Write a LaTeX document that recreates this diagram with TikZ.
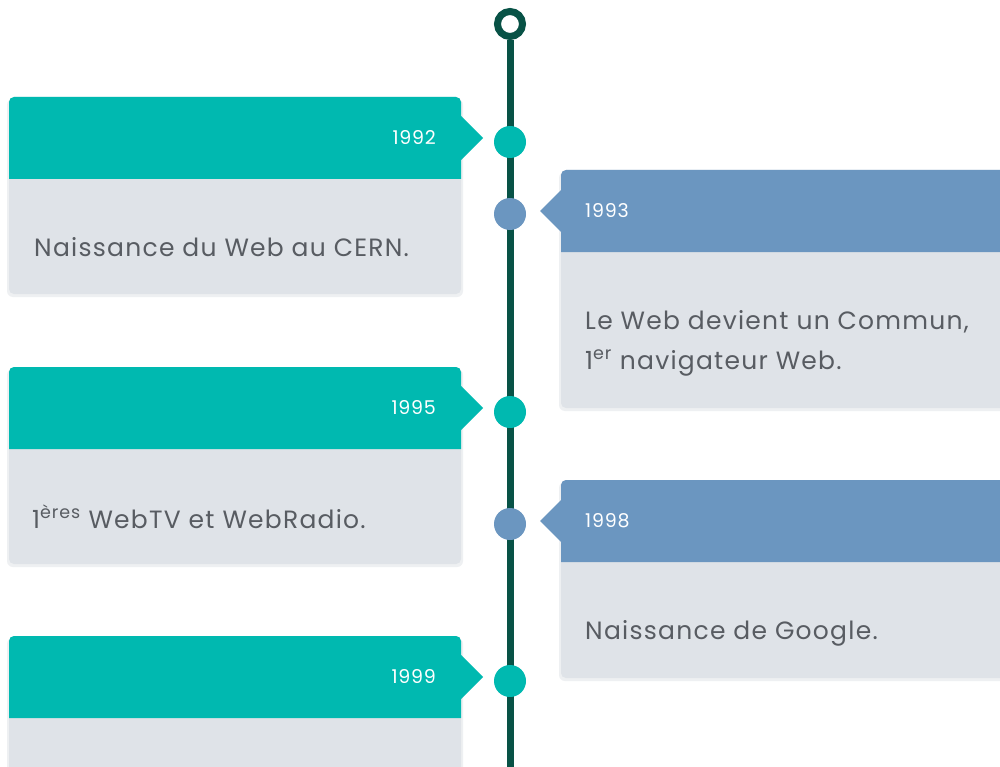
\documentclass[tikz,border=0pt]{standalone}
\usepackage{fontspec}
\setmainfont{Poppins}
\usetikzlibrary{positioning}

\definecolor{cteal}{RGB}{0,185,176}
\definecolor{cblue}{RGB}{107,150,192}
\definecolor{cbody}{RGB}{223,227,232}
\definecolor{cshade}{RGB}{238,240,242}
\definecolor{cline}{RGB}{8,82,70}
\definecolor{ctext}{RGB}{88,92,98}

\begin{document}
\begin{tikzpicture}[x=1pt,y=-1pt,every node/.style={inner sep=0pt},
	dot/.style={circle,minimum size=32pt},
	year/.style={text=white,font=\fontsize{19}{21}\selectfont\addfontfeature{LetterSpace=4}},
	txt/.style={text=ctext,anchor=base west,font=\fontsize{25}{29}\selectfont\addfontfeature{LetterSpace=5}}]

\useasboundingbox[fill=white](0,0) rectangle (1000,767);
\clip(0,0) rectangle (1000,767);

% timeline
\node[circle,draw=cline,line width=7pt,fill=white,minimum size=25pt](0) at (510,24) {};
\coordinate(end) at (510,767);
\draw[line width=7pt,cline](0)--(end);

% left cards
\foreach \n/\t in {1992/97,1995/367,1999/636}{
	\fill[cshade,rounded corners=6pt](7,\t+2) rectangle (463,\t+200);
	\fill[cbody,rounded corners=5pt](9,\t) rectangle (461,\t+197);
	\fill[cteal](9,\t+82)[rounded corners=5pt]--(9,\t)--(461,\t)[sharp corners]--(461,\t+82)--cycle;
	\fill[cteal](461,\t+19)--(483,\t+41)--(461,\t+63)--cycle;
	\node[year,anchor=east](y\n) at (436,\t+41) {\n};
	\node[dot,fill=cteal](d\n) at (510,\t+45) {};
}

% right cards
\foreach \n/\t/\h in {1993/170/238,1998/480/198}{
	\fill[cshade,rounded corners=6pt](559,\t+2) rectangle (1010,\t+\h+3);
	\fill[cbody,rounded corners=5pt](561,\t) rectangle (1010,\t+\h);
	\fill[cblue](1010,\t+82)--(561,\t+82)[rounded corners=5pt]--(561,\t)--(1010,\t)--cycle;
	\fill[cblue](561,\t+20)--(540,\t+41)--(561,\t+62)--cycle;
	\node[year,anchor=west](y\n) at (585,\t+41) {\n};
	\node[dot,fill=cblue](d\n) at (510,\t+44) {};
}

\node[txt](t1992) at (34,256) {Naissance du Web au CERN.};
\node[txt](t1993) at (585,329) {Le Web devient un Commun,};
\node[txt](t1993b) at (585,369) {1\textsuperscript{er} navigateur Web.};
\node[txt](t1995) at (32,528) {1\textsuperscript{ères} WebTV et WebRadio.};
\node[txt](t1998) at (585,639) {Naissance de Google.};

\end{tikzpicture}
\end{document}
